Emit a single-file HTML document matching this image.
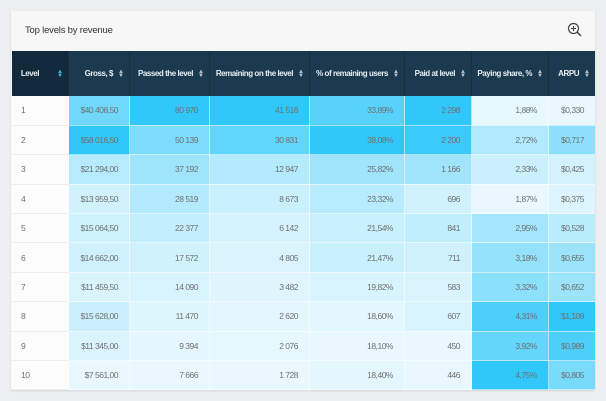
<!DOCTYPE html>
<html><head><style>
body{margin:0;width:606px;height:401px;background:#eeeff1;font-family:"Liberation Sans",sans-serif;overflow:hidden}
.card{position:absolute;left:11px;top:11px;width:584px;height:379px;background:#f7f7f7;box-shadow:0 1px 2px rgba(0,0,0,.12);overflow:hidden}
.title{position:absolute;left:14px;top:14px;font-size:9.5px;color:#333;letter-spacing:-0.2px}
.zoom{position:absolute;right:12px;top:11px}
table{position:absolute;left:0;top:40px;border-collapse:collapse;table-layout:fixed;width:584px}
th{background:#1b3a4f;color:#e8eef2;font-size:8px;font-weight:bold;height:45px;text-align:right;padding:0 5px 0 0;border-right:1px solid #15303f;white-space:nowrap;letter-spacing:-0.45px}
th:first-child{background:#122a3b}
th span{display:inline-block;font-size:6px;color:#b8c4cc;margin-left:5px;line-height:4px;vertical-align:middle;letter-spacing:0}
th:first-child span{color:#3fb6ea;margin-left:18px}
td{font-size:8.5px;color:#707070;height:29.4px;padding:0 11px 0 0;text-align:right;border:1px solid rgba(255,255,255,.55);border-top:none;letter-spacing:-0.5px;box-sizing:border-box}
td:first-child{background:#fcfcfc;text-align:left;padding-left:9px;border-bottom:1px solid #eee}
</style></head><body>
<div class="card">
<div class="title">Top levels by revenue</div>
<svg class="zoom" width="16" height="16" viewBox="0 0 16 16"><circle cx="6.5" cy="6.5" r="5" fill="none" stroke="#444" stroke-width="1.2"/><line x1="10" y1="10" x2="14" y2="14" stroke="#444" stroke-width="1.4"/><line x1="4" y1="6.5" x2="9" y2="6.5" stroke="#444" stroke-width="1.1"/><line x1="6.5" y1="4" x2="6.5" y2="9" stroke="#444" stroke-width="1.1"/></svg>
<table id="t">
<colgroup><col style="width:57px"><col style="width:61px"><col style="width:80px"><col style="width:100px"><col style="width:95px"><col style="width:67px"><col style="width:77px"><col style="width:47px"></colgroup>
<tr><th>Level<span>▲<br>▼</span></th><th>Gross, $<span>▲<br>▼</span></th><th>Passed the level<span>▲<br>▼</span></th><th>Remaining on the level<span>▲<br>▼</span></th><th>% of remaining users<span>▲<br>▼</span></th><th>Paid at level<span>▲<br>▼</span></th><th>Paying share, %<span>▲<br>▼</span></th><th>ARPU<span>▲<br>▼</span></th></tr>
<tr><td>1</td><td>$40 408,50</td><td>80 970</td><td>41 516</td><td>33,89%</td><td>2 298</td><td>1,88%</td><td>$0,330</td></tr>
<tr><td>2</td><td>$58 016,50</td><td>50 139</td><td>30 831</td><td>38,08%</td><td>2 200</td><td>2,72%</td><td>$0,717</td></tr>
<tr><td>3</td><td>$21 294,00</td><td>37 192</td><td>12 947</td><td>25,82%</td><td>1 166</td><td>2,33%</td><td>$0,425</td></tr>
<tr><td>4</td><td>$13 959,50</td><td>28 519</td><td>8 673</td><td>23,32%</td><td>696</td><td>1,87%</td><td>$0,375</td></tr>
<tr><td>5</td><td>$15 064,50</td><td>22 377</td><td>6 142</td><td>21,54%</td><td>841</td><td>2,95%</td><td>$0,528</td></tr>
<tr><td>6</td><td>$14 662,00</td><td>17 572</td><td>4 805</td><td>21,47%</td><td>711</td><td>3,18%</td><td>$0,655</td></tr>
<tr><td>7</td><td>$11 459,50</td><td>14 090</td><td>3 482</td><td>19,82%</td><td>583</td><td>3,32%</td><td>$0,652</td></tr>
<tr><td>8</td><td>$15 628,00</td><td>11 470</td><td>2 620</td><td>18,60%</td><td>607</td><td>4,31%</td><td>$1,109</td></tr>
<tr><td>9</td><td>$11 345,00</td><td>9 394</td><td>2 076</td><td>18,10%</td><td>450</td><td>3,92%</td><td>$0,989</td></tr>
<tr><td>10</td><td>$7 561,00</td><td>7 666</td><td>1 728</td><td>18,40%</td><td>446</td><td>4,75%</td><td>$0,805</td></tr>
</table>
</div>
<script>
var rows=[].slice.call(document.querySelectorAll('#t tr')).slice(1);
var lo=[232,248,254],hi=[48,200,250];
for(var c=1;c<8;c++){
 var v=rows.map(function(r){return parseFloat(r.cells[c].textContent.replace(/[$%\s]/g,'').replace(',','.'))});
 var mn=Math.min.apply(0,v),mx=Math.max.apply(0,v);
 rows.forEach(function(r,i){var t=(v[i]-mn)/(mx-mn);
  r.cells[c].style.background='rgb('+lo.map(function(a,k){return Math.round(a+(hi[k]-a)*t)}).join(',')+')';});
}
</script>
</body></html>
